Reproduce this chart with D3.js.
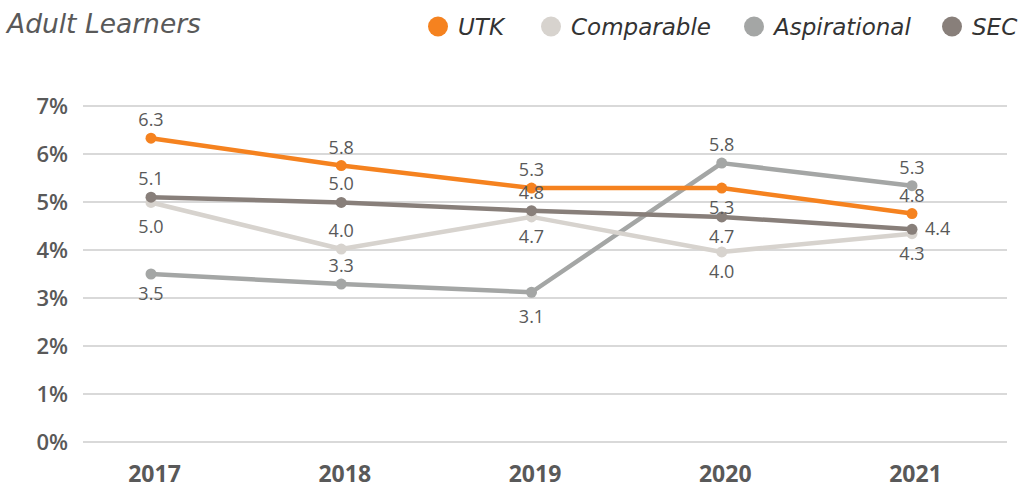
<!DOCTYPE html>
<html><head><meta charset="utf-8">
<script src="https://cdn.jsdelivr.net/npm/d3@7"></script>
<style>body{margin:0;background:#fff;}svg{display:block;font-family:"Open Sans","Noto Sans",sans-serif;}</style>
</head><body>
<svg id="chart" width="1026" height="488"></svg>
<script>
const years = ["2017","2018","2019","2020","2021"];
const yTicks = [0,1,2,3,4,5,6,7];
const seriesNames = ["UTK","Comparable","Aspirational","SEC"];
const utk = [6.33,5.76,5.29,5.29,4.76];
const comparable = [4.99,4.02,4.69,3.96,4.34];
const aspirational = [3.50,3.29,3.12,5.81,5.34];
const sec = [5.10,4.99,4.82,4.69,4.43];
const colors = ["#F5821F","#D7D3CE","#A4A6A5","#887F7A"];
// label placement per point
const placeUTK = ["above","above","above","below","above"];
const placeComparable = ["below2","above","below","below","below"];
const placeAspirational = ["below","above","below2","above","above"];
const placeSEC = ["above","above","above","below","right"];

const series = [
  {name:seriesNames[0], values:utk, color:colors[0], place:placeUTK},
  {name:seriesNames[1], values:comparable, color:colors[1], place:placeComparable},
  {name:seriesNames[2], values:aspirational, color:colors[2], place:placeAspirational},
  {name:seriesNames[3], values:sec, color:colors[3], place:placeSEC}
];
const drawOrder = [2,1,3,0];
const fmt = d3.format(".1f");

const svg = d3.select("#chart");
const x = d3.scalePoint().domain(years).range([151,912]);
const y = d3.scaleLinear().domain([0,7]).range([442,106]);

// gridlines
svg.append("g").selectAll("line").data(yTicks).join("line")
  .attr("x1",83).attr("x2",1007)
  .attr("y1",d=>y(d)).attr("y2",d=>y(d))
  .attr("stroke","#D9D9D9").attr("stroke-width",2);

// y axis
const yAxis = svg.append("g").attr("transform","translate(68,0)")
  .call(d3.axisLeft(y).tickValues(yTicks).tickFormat(d=>d+"%").tickSize(0).tickPadding(0));
yAxis.select(".domain").remove();
yAxis.selectAll("text").attr("font-size",22).attr("font-weight",600).attr("fill","#595959")
  .attr("dy","0.36em").attr("font-family","'Open Sans','Noto Sans',sans-serif");

// x axis
const xAxis = svg.append("g").attr("transform","translate(3,0)")
  .call(d3.axisBottom(x).tickSize(0).tickPadding(0));
xAxis.select(".domain").remove();
xAxis.selectAll("text").attr("font-size",23).attr("font-weight",700).attr("fill","#595959")
  .attr("y",482).attr("dy",0).attr("font-family","'Open Sans','Noto Sans',sans-serif");

const line = d3.line().x((d,i)=>x(years[i])).y(d=>y(d));

drawOrder.forEach(k=>{
  const s = series[k];
  const g = svg.append("g");
  g.append("path").attr("d",line(s.values)).attr("fill","none")
    .attr("stroke",s.color).attr("stroke-width",4.5).attr("stroke-linejoin","round");
  g.selectAll("circle").data(s.values).join("circle")
    .attr("cx",(d,i)=>x(years[i])).attr("cy",d=>y(d)).attr("r",5.5).attr("fill",s.color);
});

// data labels
const dyFor = {above:-12, below:26, below2:31, right:6};
series.forEach(s=>{
  svg.append("g").selectAll("text").data(s.values).join("text")
    .attr("x",(d,i)=> s.place[i]==="right" ? x(years[i])+13 : x(years[i]))
    .attr("y",(d,i)=> y(d)+dyFor[s.place[i]])
    .attr("text-anchor",(d,i)=> s.place[i]==="right" ? "start" : "middle")
    .attr("font-size",18).attr("fill","#595959")
    .text(d=>fmt(d));
});

// title
svg.append("text").attr("x",7).attr("y",33).attr("font-size",26.5).attr("font-style","italic")
  .attr("font-family","'DejaVu Sans',sans-serif").attr("fill","#595959").text("Adult Learners");

// legend
const legX = [438,551,754,952];
const lg = svg.append("g").selectAll("g").data(series).join("g")
  .attr("transform",(d,i)=>`translate(${legX[i]},26.5)`);
lg.append("circle").attr("r",10).attr("fill",d=>d.color);
lg.append("text").attr("x",20).attr("y",8.5).attr("font-size",23).attr("font-style","italic")
  .attr("font-family","'DejaVu Sans',sans-serif").attr("fill","#333").text(d=>d.name);
</script>
</body></html>
